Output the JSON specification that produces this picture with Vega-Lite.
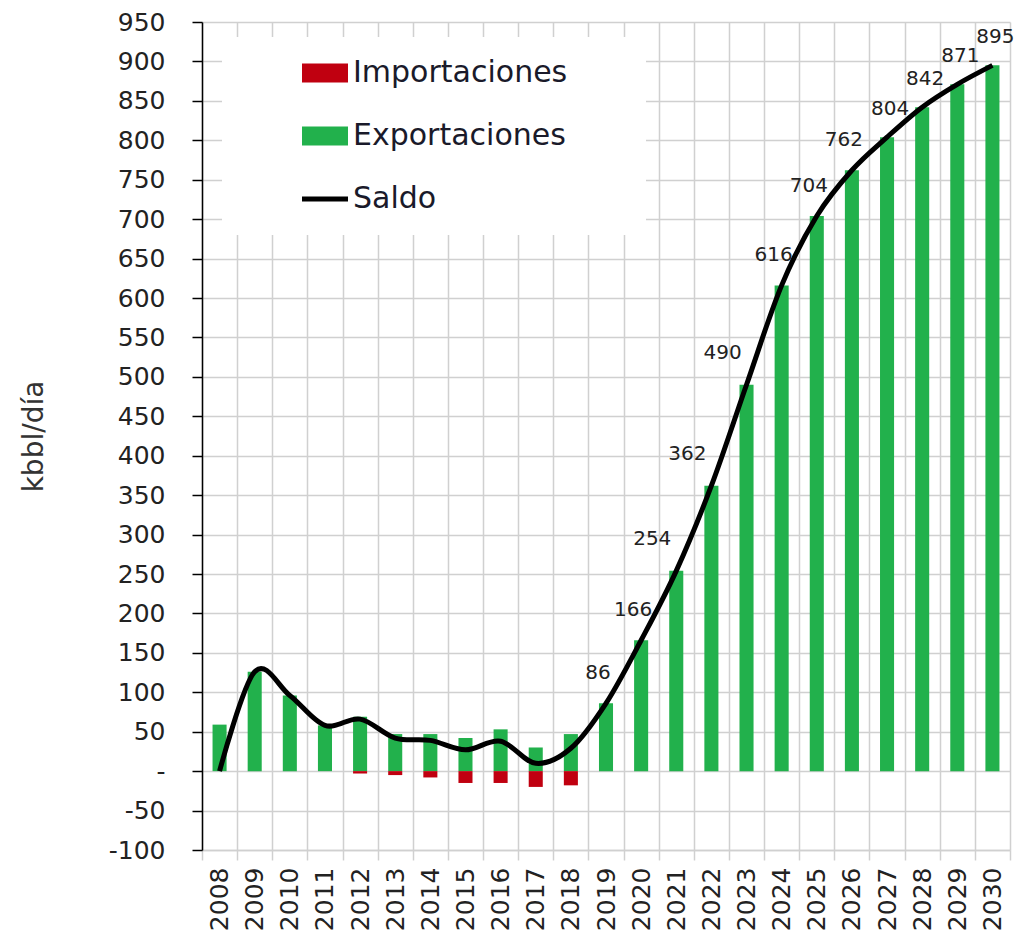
{
  "$schema": "https://vega.github.io/schema/vega-lite/v6.json",
  "width": 808,
  "height": 828,
  "autosize": {"type": "none"},
  "padding": {"left": 202, "top": 22, "right": 8, "bottom": 97},
  "background": "white",
  "config": {
    "view": {"stroke": null},
    "font": "DejaVu Sans",
    "text": {"font": "DejaVu Sans"}
  },
  "datasets": {
    "barras": [
      {"anio": "2008", "serie": "Exportaciones", "valor": 59},
      {"anio": "2009", "serie": "Exportaciones", "valor": 126},
      {"anio": "2010", "serie": "Exportaciones", "valor": 96},
      {"anio": "2011", "serie": "Exportaciones", "valor": 58},
      {"anio": "2012", "serie": "Exportaciones", "valor": 69},
      {"anio": "2013", "serie": "Exportaciones", "valor": 47},
      {"anio": "2014", "serie": "Exportaciones", "valor": 47},
      {"anio": "2015", "serie": "Exportaciones", "valor": 42},
      {"anio": "2016", "serie": "Exportaciones", "valor": 53},
      {"anio": "2017", "serie": "Exportaciones", "valor": 30},
      {"anio": "2018", "serie": "Exportaciones", "valor": 47},
      {"anio": "2019", "serie": "Exportaciones", "valor": 86},
      {"anio": "2020", "serie": "Exportaciones", "valor": 166},
      {"anio": "2021", "serie": "Exportaciones", "valor": 254},
      {"anio": "2022", "serie": "Exportaciones", "valor": 362},
      {"anio": "2023", "serie": "Exportaciones", "valor": 490},
      {"anio": "2024", "serie": "Exportaciones", "valor": 616},
      {"anio": "2025", "serie": "Exportaciones", "valor": 704},
      {"anio": "2026", "serie": "Exportaciones", "valor": 762},
      {"anio": "2027", "serie": "Exportaciones", "valor": 804},
      {"anio": "2028", "serie": "Exportaciones", "valor": 842},
      {"anio": "2029", "serie": "Exportaciones", "valor": 871},
      {"anio": "2030", "serie": "Exportaciones", "valor": 895},
      {"anio": "2012", "serie": "Importaciones", "valor": -3},
      {"anio": "2013", "serie": "Importaciones", "valor": -5},
      {"anio": "2014", "serie": "Importaciones", "valor": -8},
      {"anio": "2015", "serie": "Importaciones", "valor": -15},
      {"anio": "2016", "serie": "Importaciones", "valor": -15},
      {"anio": "2017", "serie": "Importaciones", "valor": -20},
      {"anio": "2018", "serie": "Importaciones", "valor": -18}
    ],
    "saldo": [
      {"anio": "2008", "valor": 0},
      {"anio": "2009", "valor": 126},
      {"anio": "2010", "valor": 96},
      {"anio": "2011", "valor": 58},
      {"anio": "2012", "valor": 66},
      {"anio": "2013", "valor": 42},
      {"anio": "2014", "valor": 39},
      {"anio": "2015", "valor": 27},
      {"anio": "2016", "valor": 38},
      {"anio": "2017", "valor": 10},
      {"anio": "2018", "valor": 29},
      {"anio": "2019", "valor": 86},
      {"anio": "2020", "valor": 166},
      {"anio": "2021", "valor": 254},
      {"anio": "2022", "valor": 362},
      {"anio": "2023", "valor": 490},
      {"anio": "2024", "valor": 616},
      {"anio": "2025", "valor": 704},
      {"anio": "2026", "valor": 762},
      {"anio": "2027", "valor": 804},
      {"anio": "2028", "valor": 842},
      {"anio": "2029", "valor": 871},
      {"anio": "2030", "valor": 895}
    ]
  },
  "encoding": {
    "x": {
      "field": "anio", "type": "ordinal",
      "scale": {"paddingInner": 0, "paddingOuter": 0},
      "axis": {
        "title": null, "labelAngle": -90, "labelFontSize": 25, "labelColor": "#222222",
        "labelPadding": 7, "tickSize": 10, "tickColor": "#d0d0d0", "tickWidth": 1.5,
        "domainColor": "#d0d0d0", "domainWidth": 1.5, "grid": true, "gridColor": "#d0d0d0",
        "gridWidth": 1.5, "tickBand": "extent", "labelOverlap": false
      }
    },
    "y": {
      "field": "valor", "type": "quantitative", "stack": null,
      "scale": {"domain": [-100, 950], "nice": false, "zero": false},
      "axis": {
        "values": [-100, -50, 0, 50, 100, 150, 200, 250, 300, 350, 400, 450, 500, 550, 600, 650, 700, 750, 800, 850, 900, 950],
        "tickCount": 40,
        "title": "kbbl/día", "titleFontSize": 28, "titleFontWeight": "normal", "titleColor": "#333333",
        "titlePadding": 60,
        "labelFontSize": 25, "labelColor": "#222222", "labelPadding": 27,
        "labelOverlap": false,
        "labelExpr": "datum.value === 0 ? '-' : replace(datum.label, '\u2212', '-')",
        "tickSize": 10, "tickColor": "#000000", "tickWidth": 1.5,
        "domainColor": "#000000", "domainWidth": 1.5,
        "gridColor": "#d0d0d0", "gridWidth": 1.5,
        "encode": {"labels": {"update": {"dx": {"signal": "datum.value === 0 ? -16 : 0"}}}}
      }
    }
  },
  "layer": [
    {
      "data": {"name": "barras"},
      "mark": {"type": "bar", "width": {"band": 0.4}},
      "encoding": {
        "color": {
          "field": "serie", "type": "nominal",
          "scale": {"domain": ["Importaciones", "Exportaciones", "Saldo"], "range": ["#c00010", "#22b14c", "#000000"]},
          "legend": {
            "title": " ",
            "titleOrient": "right",
            "titleFontSize": 10,
            "titlePadding": 58,
            "orient": "none",
            "legendX": 20,
            "legendY": 15,
            "zindex": 1,
            "fillColor": "white",
            "padding": 21,
            "symbolType": "M-1,-0.41H1V0.41H-1Z",
            "symbolSize": 2116,
            "symbolOffset": 67,
            "labelOffset": 13,
            "labelFontSize": 30,
            "labelColor": "#1a1a2a",
            "labelFont": "DejaVu Sans",
            "labelLimit": 400,
            "rowPadding": 33,
            "encode": {
              "symbols": {"update": {
                "shape": {"signal": "datum.value === 'Saldo' ? 'M-1,0H1' : 'M-1,-0.41H1V0.41H-1Z'"},
                "fill": {"signal": "datum.value === 'Saldo' ? 'transparent' : scale('color', datum.value)"},
                "stroke": {"signal": "datum.value === 'Saldo' ? '#000000' : 'transparent'"},
                "strokeWidth": {"signal": "datum.value === 'Saldo' ? 5 : 0"},
                "opacity": {"value": 1}
              }}
            }
          }
        }
      }
    },
    {
      "data": {"name": "saldo"},
      "mark": {"type": "line", "interpolate": "cardinal", "strokeWidth": 5},
      "encoding": {
        "color": {"datum": "Saldo"}
      }
    },
    {
      "data": {"name": "saldo"},
      "transform": [{"filter": {"field": "anio", "oneOf": ["2019", "2020", "2024", "2025", "2026"]}}],
      "mark": {"type": "text", "dx": -8, "dy": -30, "fontSize": 20, "color": "#222222"},
      "encoding": {
        "text": {"field": "valor", "type": "quantitative"}
      }
    },
    {
      "data": {"name": "saldo"},
      "transform": [{"filter": {"field": "anio", "oneOf": ["2021", "2022", "2023"]}}],
      "mark": {"type": "text", "dx": -24, "dy": -32, "fontSize": 20, "color": "#222222"},
      "encoding": {
        "text": {"field": "valor", "type": "quantitative"}
      }
    },
    {
      "data": {"name": "saldo"},
      "transform": [{"filter": {"field": "anio", "oneOf": ["2027", "2028", "2029", "2030"]}}],
      "mark": {"type": "text", "dx": 3, "dy": -28, "fontSize": 20, "color": "#222222"},
      "encoding": {
        "text": {"field": "valor", "type": "quantitative"}
      }
    }
  ]
}
